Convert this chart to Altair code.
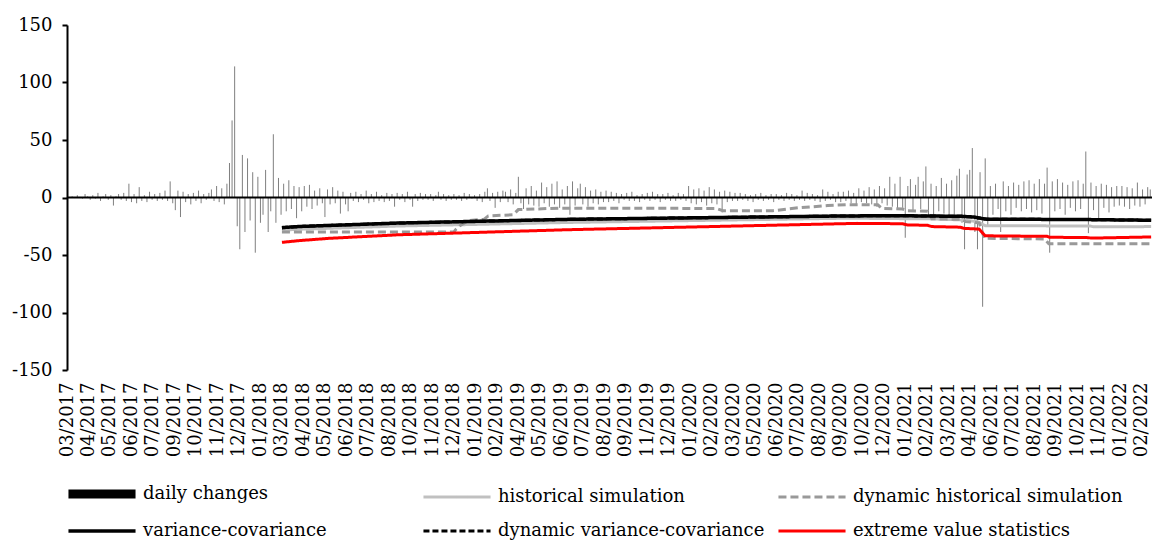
import altair as alt
import pandas as pd

# ---------------- data ----------------
month_labels = [
    "03/2017", "04/2017", "05/2017", "06/2017", "07/2017", "09/2017", "10/2017", "11/2017", "12/2017",
    "01/2018", "03/2018", "04/2018", "05/2018", "06/2018", "07/2018", "08/2018", "10/2018", "11/2018", "12/2018",
    "01/2019", "02/2019", "04/2019", "05/2019", "06/2019", "07/2019", "08/2019", "09/2019", "11/2019", "12/2019",
    "01/2020", "02/2020", "03/2020", "05/2020", "06/2020", "07/2020", "08/2020", "09/2020", "10/2020", "12/2020",
    "01/2021", "02/2021", "03/2021", "04/2021", "06/2021", "07/2021", "08/2021", "09/2021", "10/2021", "11/2021",
    "01/2022", "02/2022",
]
LABEL_STEP = 25      # trading days between two axis labels
BAR_STEP = 3         # trading days between two drawn daily bars
N_DAYS = 1262

daily_changes = [
    0.5, 0, 1, -0.5, 2, 0.5, -1, 3, 1, -2,
    2, -1, 4, -3, 1, 3, -2, 2, -7, 1,
    3, -2, 4, -3, 12, -4, 3, -5, 9, -3,
    2, -4, 5, -2, 3, -3, 4, -2, 6, -3,
    14, -5, -11, 6, -17, 5, -4, 3, -6, 4,
    -3, 6, -5, 3, -2, 4, 7, -3, 10, -4,
    8, -6, 12, 30, 67, 114, -25, -45, 37, -30,
    34, -20, 22, -48, 18, -22, -15, 24, -30, -12,
    55, -22, 17, -15, 12, -12, 15, -10, 10, -18,
    9, -12, 10, -8, 11, -10, 6, -7, 8, -5,
    -17, 7, -6, 9, -5, 6, -14, 5, -6, -12,
    4, -3, 5, -4, 3, -2, 6, -5, 3, -4,
    5, -3, 2, -4, 4, -3, 3, -8, 4, -2,
    3, -4, 5, -2, -8, 3, -3, 4, -2, 3,
    -2, 3, -3, 2, 5, -2, 3, -3, 2, -2,
    3, -2, 2, -3, 4, -2, 3, -1, 2, -3,
    3, -4, 5, 8, -3, 4, -9, 5, -4, 6,
    5, -4, 7, -6, 4, 18, -5, -10, 8, -6,
    10, -7, 6, -8, 13, -5, 9, -8, 12, -6,
    14, -9, 7, -6, 10, -15, 14, -7, 8, 12,
    -6, 9, -8, 6, -5, 7, -6, 5, -4, 6,
    -4, 5, -3, 4, -5, 3, -2, 4, -3, 5,
    -3, 2, -4, 3, -2, 4, -3, 5, -2, 3,
    -4, 3, -2, 4, -3, 2, -3, 4, -2, 3,
    -3, 10, -5, 7, -6, 8, -4, 6, -7, 9,
    -5, 7, -6, 5, -13, 6, -4, 5, -3, 4,
    -3, 4, -2, 3, -3, 2, -4, 3, -2, 4,
    -3, 2, -2, 3, -4, 3, -2, 2, -3, 4,
    -2, 3, -3, 2, -2, 6, -3, 4, -2, 3,
    -3, 2, -4, 7, -3, 5, -2, 3, -4, 5,
    -4, 5, -3, 6, -5, 4, -6, 8, -4, 6,
    -5, 9, -6, 7, -8, 10, -5, 8, -7, 18,
    -8, 12, -10, 18, -9, -35, 10, 16, -12, 11,
    18, -10, 14, 27, -17, 12, -15, 10, -12, 17,
    -14, 12, -18, 15, -20, 19, 25, -22, -45, 20,
    24, 43, -30, -45, 22, -95, 34, -25, 10, -15,
    12, -10, -30, 14, -12, 10, -15, 13, -9, 11,
    -12, 14, -10, 15, -13, 12, -11, 16, -14, 12,
    26, -48, 14, -12, 16, -10, 13, -15, 11, -9,
    14, -12, 15, -10, 12, 40, -31, 13, -11, 10,
    -20, 12, -9, 11, -13, 9, -8, 10, -7, 10,
    -8, 9, -10, 8, -7, 13, -8, 7, -6, 9, 7,
]

vc_days = [250, 270, 386, 583, 908, 975, 1041, 1055, 1068, 1186, 1261]
vc_vals = [-26.2, -25.2, -22.2, -19.0, -16.0, -15.9, -16.4, -17.0, -18.8, -19.2, -19.8]

dvc_days = [250, 270, 386, 583, 908, 975, 1041, 1055, 1068, 1186, 1261]
dvc_vals = [-26.2, -25.2, -22.2, -19.0, -16.0, -15.9, -16.4, -17.0, -18.8, -19.2, -19.8]

hs_days = [250, 270, 386, 583, 908, 1006, 1041, 1059, 1068, 1190, 1194, 1261]
hs_vals = [-28.4, -27.6, -24.8, -21.7, -18.0, -18.6, -19.5, -21.0, -24.5, -24.8, -25.5, -25.3]

dhs_days = [250, 450, 452, 458, 467, 485, 490, 519, 525, 572, 755, 763, 821, 850, 885, 908,
            943, 948, 972, 977, 1001, 1006, 1041, 1045, 1061, 1067, 1137, 1142, 1261]
dhs_vals = [-30, -30, -28, -24, -20, -19, -16, -15, -10.5, -9.3, -9.5, -11.5, -11.5, -9, -7, -6.2,
            -6.3, -9.5, -10, -11.5, -12, -18.5, -19, -21, -22, -35.5, -36, -40.3, -40.3]

evs_days = [250, 270, 305, 386, 583, 919, 972, 977, 1001, 1006, 1039, 1043, 1061, 1068,
            1140, 1143, 1186, 1192, 1261]
evs_vals = [-39, -37.5, -35.5, -32.4, -28, -22.5, -22.8, -23.8, -24.2, -25.3, -25.8, -26.8, -27.5, -33.3,
            -33.8, -34.6, -34.8, -35.3, -34.3]

series_names = ["daily changes", "historical simulation", "dynamic historical simulation",
                "variance-covariance", "dynamic variance-covariance", "extreme value statistics"]
series_colors = ["#000000", "#c0c0c0", "#999999", "#000000", "#000000", "#ff0000"]
series_dashes = [[1, 0], [1, 0], [8, 4], [1, 0], [6, 3], [1, 0]]
series_widths = [9, 3, 3, 3.5, 3, 3]

FONT = "DejaVu Serif"
FS = 18

# ---------------- frames ----------------
bars_df = pd.DataFrame({
    "day": [i * BAR_STEP for i in range(len(daily_changes))],
    "value": daily_changes,
    "base": [0] * len(daily_changes),
})


def series_frame(name, days, vals):
    return pd.DataFrame({"day": days, "value": vals, "series": [name] * len(days)})


# drawing order: light grey first, red last
lines_df = pd.concat([
    series_frame(series_names[1], hs_days, hs_vals),
    series_frame(series_names[2], dhs_days, dhs_vals),
    series_frame(series_names[4], dvc_days, dvc_vals),
    series_frame(series_names[3], vc_days, vc_vals),
    series_frame(series_names[5], evs_days, evs_vals),
], ignore_index=True)

x_scale = alt.Scale(domain=[0, N_DAYS], nice=False, zero=False)
y_scale = alt.Scale(domain=[-150, 150], nice=False)

label_array = "[" + ",".join("'" + m + "'" for m in month_labels) + "]"
x_axis = alt.Axis(
    values=[k * LABEL_STEP for k in range(len(month_labels))],
    labelExpr=label_array + "[round(datum.value / " + str(LABEL_STEP) + ")]",
    labelAngle=270, labelAlign="right", labelBaseline="middle",
    ticks=False, domain=False, grid=False, title=None,
    labelFont=FONT, labelFontSize=FS, labelColor="black",
    labelPadding=12, labelOverlap=False, labelFlush=False, labelBound=False,
)
y_axis = alt.Axis(
    values=[-150, -100, -50, 0, 50, 100, 150], grid=False, title=None,
    labelExpr="toString(datum.value)",
    domainColor="black", domainWidth=2, tickColor="black", tickWidth=2, tickSize=5,
    labelFont=FONT, labelFontSize=FS, labelColor="black", labelPadding=10,
)

x_enc = alt.X("day:Q", scale=x_scale, axis=x_axis)
y_enc = alt.Y("value:Q", scale=y_scale, axis=y_axis)

bars = alt.Chart(bars_df).mark_rule(color="black", opacity=0.5, strokeWidth=1).encode(
    x=x_enc, y=y_enc, y2="base:Q",
)

zero_line = alt.Chart(pd.DataFrame({"value": [0]})).mark_rule(color="black", strokeWidth=2).encode(
    y=y_enc
)

lines = alt.Chart(lines_df).mark_line(strokeCap="butt").encode(
    x=x_enc,
    y=y_enc,
    color=alt.Color("series:N", scale=alt.Scale(domain=series_names, range=series_colors),
                    legend=alt.Legend(title=None)),
    strokeDash=alt.StrokeDash("series:N", scale=alt.Scale(domain=series_names, range=series_dashes),
                              legend=alt.Legend(title=None)),
    strokeWidth=alt.StrokeWidth("series:N", scale=alt.Scale(type="ordinal", domain=series_names,
                                                            range=series_widths),
                                legend=alt.Legend(title=None)),
)

chart = alt.layer(bars, zero_line, lines).properties(
    width=1085, height=345,
    autosize=alt.AutoSizeParams(type="none"),
    padding={"left": 67, "top": 25, "right": 0, "bottom": 171},
).configure_view(stroke=None).configure_axisX(labelOverlap=False).configure_legend(
    orient="none", legendX=19, legendY=453, columns=3, gridAlign="all", direction="horizontal",
    symbolType="M-3,0H3", symbolSize=500, symbolOffset=0, padding=0,
    columnPadding=4, rowPadding=6, labelOffset=25,
    labelFont=FONT, labelFontSize=FS, labelColor="black", labelLimit=0,
)

chart.save("out.html", embed_options={"renderer": "svg", "actions": False})
